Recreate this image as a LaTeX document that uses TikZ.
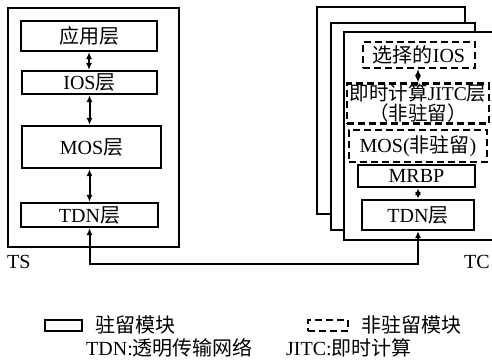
\documentclass[tikz,border=0pt]{standalone}
\usepackage{fontspec}
\setmainfont{Liberation Serif}
\newfontfamily\cjk{Noto Sans CJK SC}
\newcommand{\zh}[1]{{\cjk #1}}
\usetikzlibrary{arrows.meta}
\begin{document}
\begin{tikzpicture}[x=1pt,y=-1pt,
  txt/.style={font=\fontsize{20}{22}\selectfont},
  layer/.style={draw,line width=2.2pt,inner sep=0pt,txt,align=center},
  nonres/.style={layer,dash pattern=on 7pt off 4pt},
  frame/.style={draw,line width=1.8pt,fill=white},
  link/.style={line width=2pt,{Latex[length=7pt,width=6pt]}-{Latex[length=7pt,width=6pt]}}]
\useasboundingbox (0,0) rectangle (492,361);

% TS node
\node[draw,line width=1.8pt,minimum width=171pt,minimum height=239pt,inner sep=0pt] (ts) at (93.5,127.5) {};
\node[layer,minimum width=136pt,minimum height=30pt] (app) at (89,36) {\zh{应用层}};
\node[layer,minimum width=135pt,minimum height=23pt] (ios) at (89.5,82.5) {IOS\zh{层}};
\node[layer,minimum width=139pt,minimum height=42pt] (mos) at (91.5,147) {MOS\zh{层}};
\node[layer,minimum width=137pt,minimum height=24pt] (tdnL) at (89.5,215) {TDN\zh{层}};
\draw[link] (app.south) -- (app.south |- ios.north);
\draw[link] (ios.south) -- (ios.south |- mos.north);
\draw[link] (mos.south -| ios.south) -- (ios.south |- tdnL.north);
\node[txt,anchor=west,inner sep=0pt] (tslabel) at (7,262) {TS};

% TC nodes, stacked
\draw[frame] (317,7) rectangle (465,214);
\draw[frame] (331,23) rectangle (475,230);
\draw[frame] (495,32) -- (344,32) -- (344,240) -- (495,240);
\node[nonres,minimum width=112pt,minimum height=26pt] (sel) at (419,55) {\zh{选择的}IOS};
\node[nonres,minimum width=142pt,minimum height=40pt,font=\fontsize{19.5}{20}\selectfont] (jitc) at (418,103.5) {\zh{即时计算}JITC\zh{层}\\\zh{（非驻留）}};
\node[nonres,minimum width=138pt,minimum height=32pt] (mosR) at (418,146) {MOS(\zh{非驻留})};
\node[layer,minimum width=117pt,minimum height=22pt] (mrbp) at (416.5,176) {MRBP};
\node[layer,minimum width=112pt,minimum height=30pt] (tdnR) at (418,215) {TDN\zh{层}};
\draw[link] (sel.south -| tdnR.south) -- (tdnR.south |- jitc.north);
\draw[link] (mrbp.south -| tdnR.south) -- (tdnR.north);
\node[txt,anchor=west,inner sep=0pt] (tclabel) at (464,262) {TC};

% link between the two TDN layers
\coordinate (bus) at (0,264);
\draw[link] (tdnL.south) |- (bus -| tdnR.south) -- (tdnR.south);

% legend
\node[draw,line width=2.2pt,minimum width=37pt,minimum height=11pt,inner sep=0pt] (keyres) at (63.5,325.5) {};
\node[txt,anchor=west,inner sep=0pt] (keyrestxt) at (95,325) {\zh{驻留模块}};
\node[draw,line width=2.2pt,dash pattern=on 7pt off 4pt,minimum width=40pt,minimum height=11pt,inner sep=0pt] (keynon) at (328,325.5) {};
\node[txt,anchor=west,inner sep=0pt] (keynontxt) at (361,325) {\zh{非驻留模块}};
\node[txt,anchor=west,inner sep=0pt] (tdnnote) at (86,348) {TDN:\zh{透明传输网络}};
\node[txt,anchor=west,inner sep=0pt] (jitcnote) at (286,348) {JITC:\zh{即时计算}};
\end{tikzpicture}
\end{document}
